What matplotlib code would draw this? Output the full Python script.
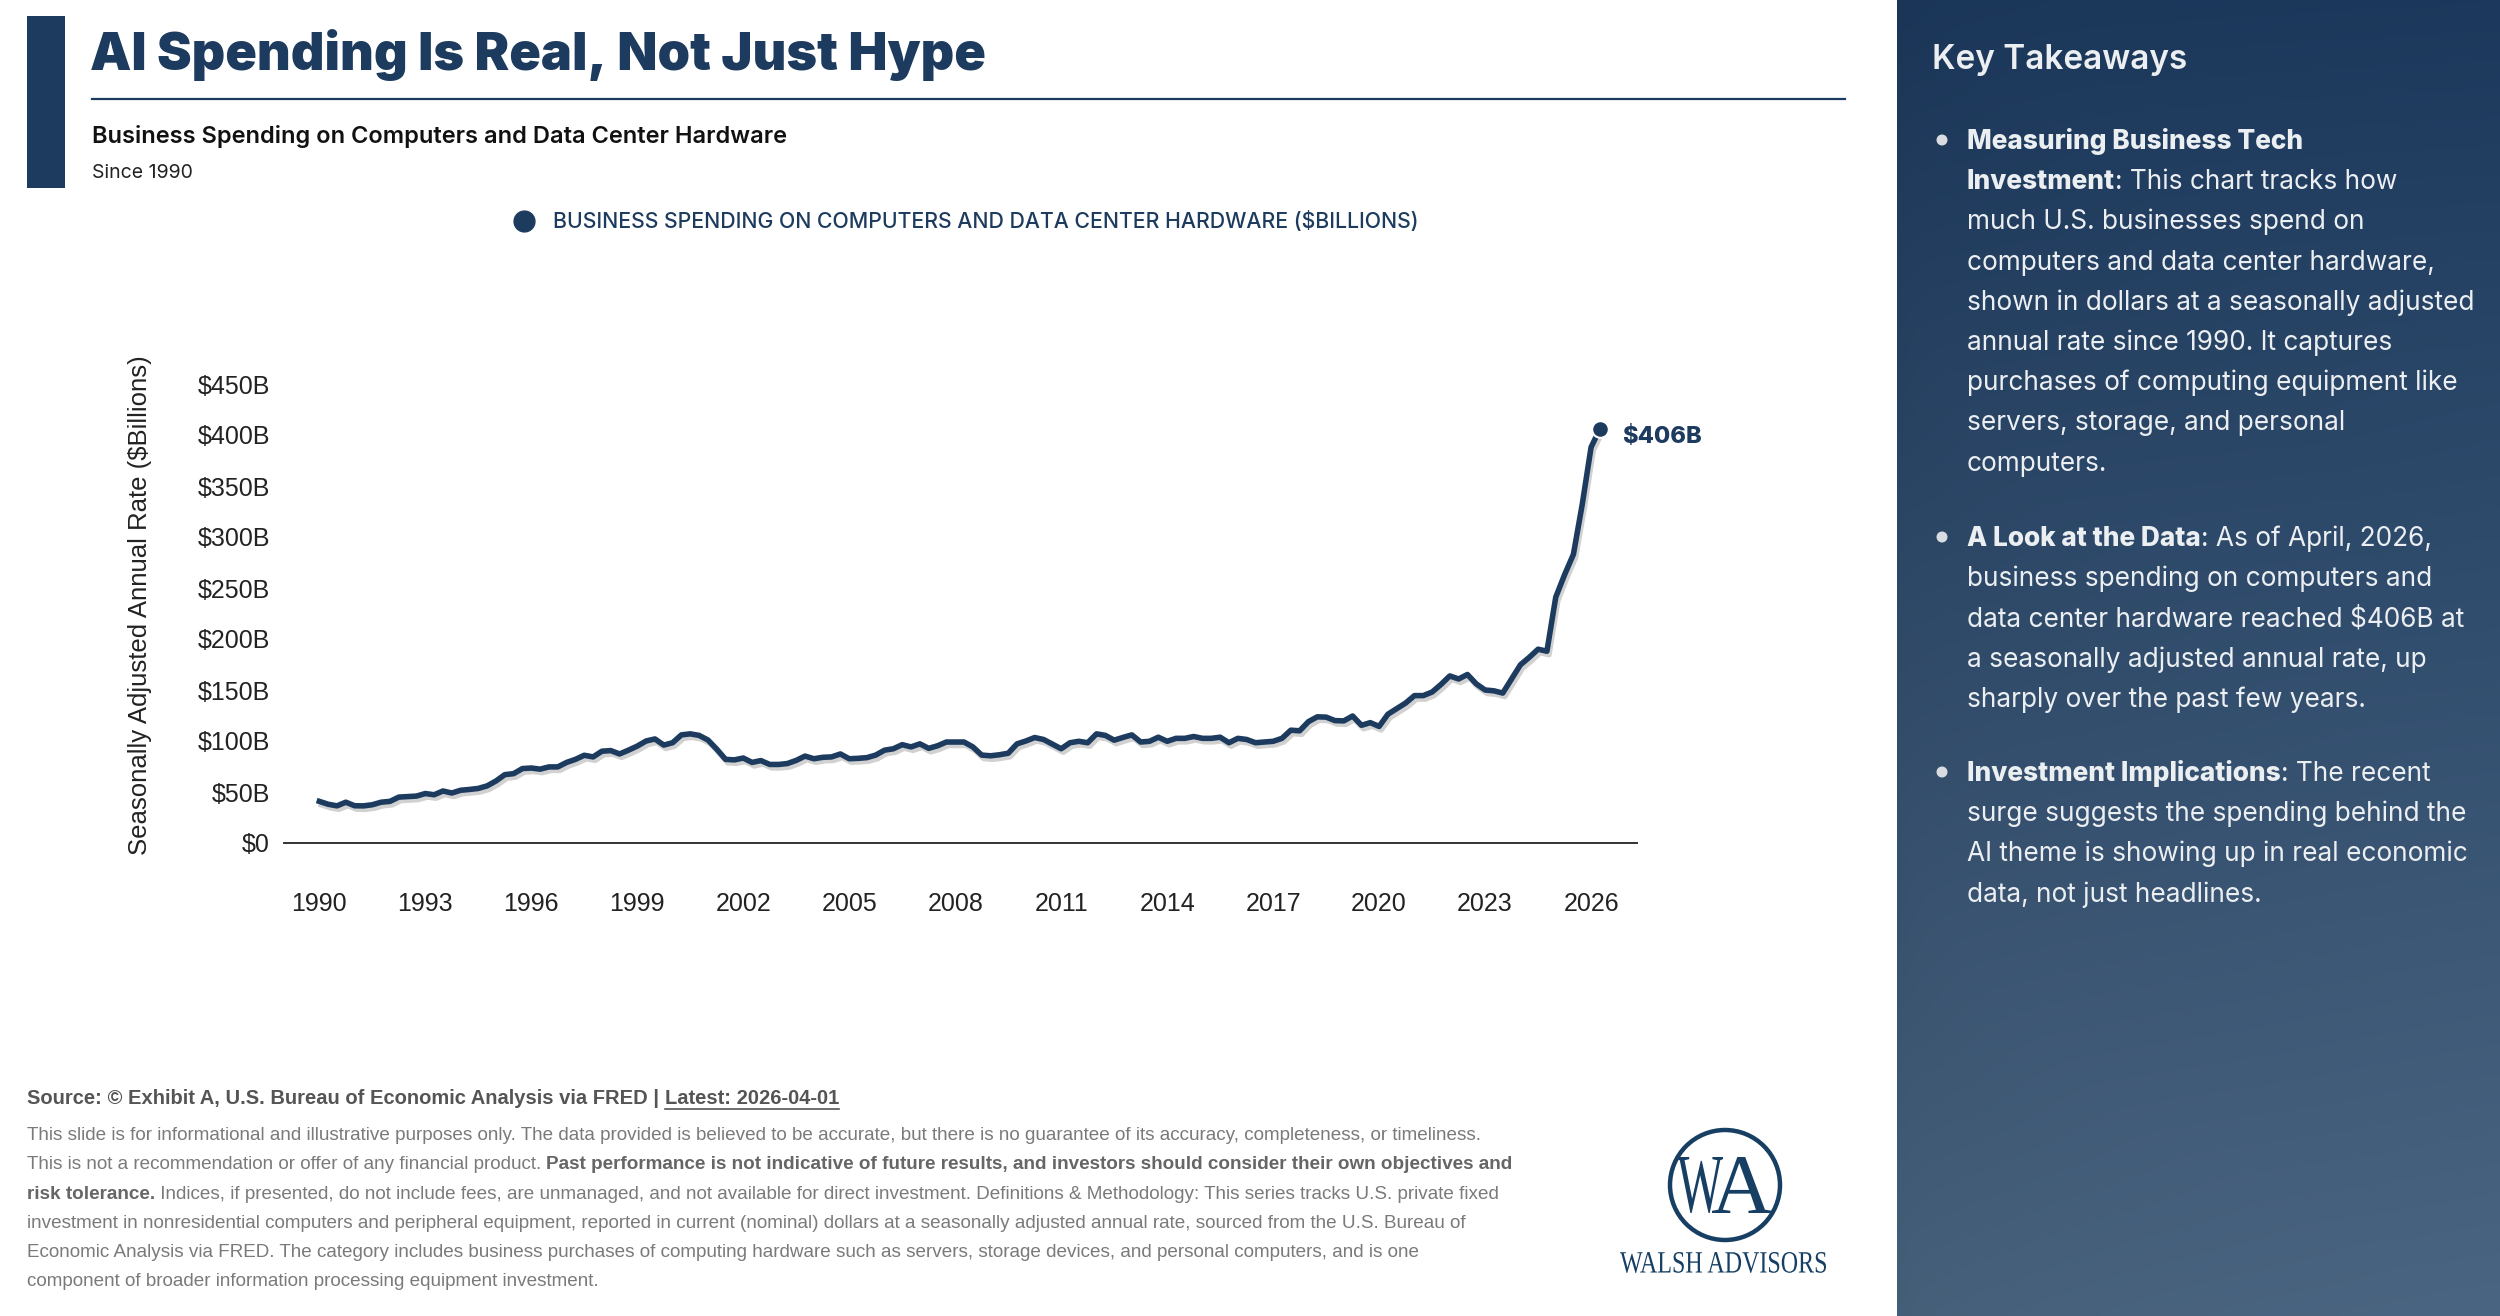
import numpy as np
import pandas as pd
import matplotlib
matplotlib.use("Agg")
import matplotlib.pyplot as plt
import matplotlib.patheffects as pe
from matplotlib.lines import Line2D
from matplotlib.patches import Rectangle, Circle, PathPatch
from matplotlib.textpath import TextPath
from matplotlib.font_manager import FontProperties
from matplotlib.transforms import Affine2D

# ---- data (quarterly, $ billions, SAAR)
quarters = pd.date_range("1990-01-01", "2026-04-01", freq="QS")
spend = [
    40.8, 38.0, 36.4, 40.0,      # 1990
    36.5, 36.4, 37.5, 40.0,      # 1991
    40.8, 45.0, 45.5, 46.0,      # 1992
    48.5, 47.3, 51.0, 49.0,      # 1993
    51.7, 52.5, 53.5, 56.0,      # 1994
    60.8, 67.0, 68.0, 73.0,      # 1995
    73.5, 72.4, 74.6, 74.6,      # 1996
    79.0, 82.0, 86.0, 84.4,      # 1997
    90.0, 90.6, 87.3, 91.0,      # 1998
    95.0, 100.0, 102.0, 96.0,    # 1999
    98.3, 106.0, 107.0, 105.5,   # 2000
    101.0, 92.0, 82.0, 81.5,     # 2001
    83.3, 79.0, 80.8, 77.0,      # 2002
    77.0, 77.9, 81.0, 85.2,      # 2003
    82.6, 84.0, 84.4, 87.3,      # 2004
    82.6, 83.0, 83.7, 86.2,      # 2005
    91.0, 92.4, 96.4, 94.2,      # 2006
    97.2, 92.8, 95.3, 99.0,      # 2007
    99.0, 99.0, 94.2, 86.2,      # 2008
    85.5, 86.5, 88.0, 97.2,      # 2009
    100.0, 103.4, 101.5, 97.0,   # 2010
    92.4, 98.3, 99.7, 98.3,      # 2011
    107.0, 105.5, 100.8, 103.5,  # 2012
    106.0, 99.0, 99.7, 103.7,    # 2013
    99.7, 102.6, 102.6, 104.4,   # 2014
    102.6, 102.6, 103.7, 98.3,   # 2015
    102.6, 101.5, 98.3, 99.0,    # 2016
    99.7, 102.6, 110.6, 110.0,   # 2017
    119.0, 123.7, 123.4, 120.0,  # 2018
    119.7, 124.5, 115.4, 118.0,  # 2019
    114.3, 126.3, 131.7, 137.2,  # 2020
    144.5, 144.5, 148.0, 155.4,  # 2021
    163.8, 160.8, 165.2, 156.0,  # 2022
    150.0, 149.2, 147.0, 160.8,  # 2023
    174.7, 182.0, 190.0, 188.0,  # 2024
    241.0, 263.0, 283.0, 332.0,  # 2025
    388.0, 406.0,                # 2026
]
year_ticks = list(range(1990, 2027, 3))
y_ticks = list(range(0, 451, 50))

title = "AI Spending Is Real, Not Just Hype"
subtitle = "Business Spending on Computers and Data Center Hardware"
since = "Since 1990"
series_name = "BUSINESS SPENDING ON COMPUTERS AND DATA CENTER HARDWARE ($BILLIONS)"
ylabel = "Seasonally Adjusted Annual Rate ($Billions)"

takeaways = [
    [[("Measuring Business Tech", True)],
     [("Investment", True), (": This chart tracks how", False)],
     [("much U.S. businesses spend on", False)],
     [("computers and data center hardware,", False)],
     [("shown in dollars at a seasonally adjusted", False)],
     [("annual rate since 1990. It captures", False)],
     [("purchases of computing equipment like", False)],
     [("servers, storage, and personal", False)],
     [("computers.", False)]],
    [[("A Look at the Data", True), (": As of April, 2026,", False)],
     [("business spending on computers and", False)],
     [("data center hardware reached $406B at", False)],
     [("a seasonally adjusted annual rate, up", False)],
     [("sharply over the past few years.", False)]],
    [[("Investment Implications", True), (": The recent", False)],
     [("surge suggests the spending behind the", False)],
     [("AI theme is showing up in real economic", False)],
     [("data, not just headlines.", False)]],
]

footer = [
    [("This slide is for informational and illustrative purposes only. The data provided is believed to be accurate, but there is no guarantee of its accuracy, completeness, or timeliness.", False)],
    [("This is not a recommendation or offer of any financial product. ", False),
     ("Past performance is not indicative of future results, and investors should consider their own objectives and", True)],
    [("risk tolerance.", True),
     (" Indices, if presented, do not include fees, are unmanaged, and not available for direct investment. Definitions & Methodology: This series tracks U.S. private fixed", False)],
    [("investment in nonresidential computers and peripheral equipment, reported in current (nominal) dollars at a seasonally adjusted annual rate, sourced from the U.S. Bureau of", False)],
    [("Economic Analysis via FRED. The category includes business purchases of computing hardware such as servers, storage devices, and personal computers, and is one", False)],
    [("component of broader information processing equipment investment.", False)],
]

# ---- styling
W, H = 2500, 1316
navy = "#1c3b5e"
SANS = ["Liberation Sans", "DejaVu Sans"]
UI = ["Inter", "Lato", "DejaVu Sans"]
HEAVY = ["Inter", "Lato", "DejaVu Sans"]

fig = plt.figure(figsize=(W / 100, H / 100), dpi=100)
fig.patch.set_facecolor("white")

# background axes in pixel coordinates (y downwards)
bg = fig.add_axes([0, 0, 1, 1], zorder=0)
bg.set_axis_off()

# sidebar gradient
ny, nx = 200, 60
top = np.array([0x1c, 0x39, 0x5d]) / 255
bot = np.array([0x4a, 0x65, 0x81]) / 255
ty = np.linspace(0, 1, ny)[:, None, None]
tx = np.linspace(0, 1, nx)[None, :, None]
grad = top + (bot - top) * ty
grad = grad * (0.93 + 0.07 * np.sqrt(tx))
bg.imshow(np.clip(grad, 0, 1), extent=(1897, W, H, 0), aspect="auto",
          interpolation="bicubic", zorder=0)
bg.set_xlim(0, W)
bg.set_ylim(H, 0)

# header
bg.add_patch(Rectangle((27, 16), 38, 172, color=navy, lw=0))
bg.text(90, 55, title, fontsize=37.5, fontweight="black", family=HEAVY,
        color=navy, va="center", ha="left")
bg.plot([92, 1845], [99, 99], color=navy, lw=1.6)
bg.text(92, 137, subtitle, fontsize=17, fontweight="semibold", family=UI,
        color="#111111", va="center")
bg.text(92, 173, since, fontsize=14, family=UI, color="#222222", va="center")


def draw_runs(ax, x, y, parts, size, color, family, bold_weight="bold",
              normal_weight="normal", bold_color=None):
    t = None
    for txt, is_bold in parts:
        kw = dict(fontsize=size, family=family,
                  color=(bold_color or color) if is_bold else color,
                  fontweight=bold_weight if is_bold else normal_weight)
        if t is None:
            t = ax.text(x, y, txt, ha="left", va="baseline", **kw)
        else:
            t = ax.annotate(txt, xy=(1, 0), xycoords=t, ha="left", va="bottom", **kw)
    return t


# sidebar
side_col = "#eceff2"
bg.text(1932, 60, "Key Takeaways", fontsize=24, fontweight="semibold",
        family=UI, color=side_col, va="center")
line_h = 40.2
starts = [149, 546, 781]
for block, y0 in zip(takeaways, starts):
    bg.add_patch(Circle((1942, y0 - 9), 5.5, color="#d9dde2", lw=0))
    for i, parts in enumerate(block):
        draw_runs(bg, 1967, y0 + i * line_h, parts, 18.9, side_col, UI,
                  bold_weight="heavy")

# footer
src = draw_runs(bg, 27, 1104,
                [("Source: \u00a9 Exhibit A, U.S. Bureau of Economic Analysis via FRED | ", False)],
                14.5, "#555555", SANS, normal_weight="bold")
latest = bg.annotate("Latest: 2026-04-01", xy=(1, 0), xycoords=src, ha="left",
                     va="bottom", fontsize=14.5, family=SANS, color="#555555",
                     fontweight="bold")
for i, parts in enumerate(footer):
    draw_runs(bg, 27, 1140 + i * 29.3, parts, 13.55, "#7a7a7a", SANS,
              bold_color="#666666")

# logo
def text_patch(ax, s, x0, y_base, w, h, family, color):
    tp = TextPath((0, 0), s, size=1, prop=FontProperties(family=family))
    ext = tp.get_extents()
    tr = (Affine2D().translate(-ext.x0, -ext.y0)
          .scale(w / ext.width, -h / ext.height)
          .translate(x0, y_base) + ax.transData)
    ax.add_patch(PathPatch(tp, transform=tr, color=color, lw=0))


logo_col = "#163f63"
bg.add_patch(Circle((1725, 1185), 55, fill=False, ec=logo_col, lw=3.2))
text_patch(bg, "W", 1677, 1213, 46, 56, ["Liberation Serif"], logo_col)
text_patch(bg, "A", 1712, 1213, 60, 56, ["Liberation Serif"], logo_col)
text_patch(bg, "WALSH ADVISORS", 1620, 1273, 206, 21, ["Liberation Serif"], logo_col)

# ---- main chart
ax = fig.add_axes([284 / W, (H - 843) / H, (1637 - 284) / W, (843 - 384) / H], zorder=2)
ax.patch.set_alpha(0)
xdec = quarters.year + (quarters.month - 1) / 12.0
ax.plot(xdec, spend, color=navy, lw=4.0, solid_joinstyle="round",
        path_effects=[pe.SimpleLineShadow(offset=(1.5, -2.5), alpha=0.18),
                      pe.Normal()])
ax.plot(xdec[-1], spend[-1], "o", ms=12, mfc=navy, mec="white", mew=1.5, zorder=5)
ax.annotate(f"${spend[-1]:.0f}B", xy=(xdec[-1], spend[-1]), xytext=(22, -8),
            textcoords="offset pixels", va="center", ha="left", fontsize=17,
            fontweight="heavy", family=HEAVY, color=navy)

ax.set_xlim(1989.0, 2027.3)
ax.set_ylim(0, 450)
ax.set_xticks(year_ticks)
ax.set_xticklabels([str(y) for y in year_ticks])
ax.set_yticks(y_ticks)
ax.set_yticklabels(["$0" if v == 0 else f"${v}B" for v in y_ticks])
for s in ["top", "right", "left"]:
    ax.spines[s].set_visible(False)
ax.spines["bottom"].set_color("#333333")
ax.spines["bottom"].set_linewidth(1.4)
ax.tick_params(axis="both", length=0, labelsize=18, labelcolor="#222222")
ax.tick_params(axis="x", pad=35)
ax.tick_params(axis="y", pad=10)
for lab in ax.get_xticklabels() + ax.get_yticklabels():
    lab.set_family(SANS)

fig.text(140 / W, 1 - 605 / H, ylabel, rotation=90, ha="center", va="center",
         fontsize=18.5, family=SANS, color="#222222")

leg = ax.legend(handles=[Line2D([], [], marker="o", ls="", ms=15, color=navy)],
                labels=[series_name], loc="center", bbox_to_anchor=(0.5, 1.353),
                frameon=False, handletextpad=0.4,
                prop={"family": UI, "size": 15.3, "weight": "medium"},
                labelcolor=navy)

# underline the "Latest" link
fig.canvas.draw()
bb = latest.get_window_extent()
uy = H - bb.y0 + 1
bg.plot([bb.x0, bb.x1], [uy, uy], color="#555555", lw=1.2)

fig.savefig("out.png", dpi=100, facecolor="white")
